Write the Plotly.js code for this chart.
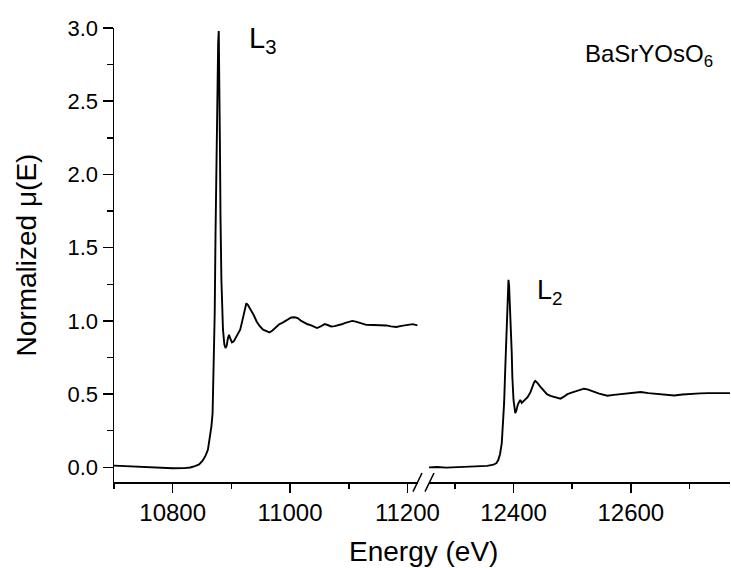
<!DOCTYPE html>
<html>
<head>
<meta charset="utf-8">
<script src="https://cdn.plot.ly/plotly-3.0.1.min.js"></script>
<style>
html,body{margin:0;padding:0;background:#fff;}
#chart{width:731px;height:568px;}
</style>
</head>
<body>
<div id="chart"></div>
<script>
// L3 edge (left segment)
const energyL3 = [10700,10720,10740,10760,10780,10800,10820,10830,10838,10845,10851,10856,10860,10864,10866,10868,10870,10871.6,10873,10874.5,10876,10877.5,10878.5,10879.5,10880.5,10881.5,10883,10885.7,10888,10890,10892,10894,10896,10898,10901,10904,10907,10911,10915,10918,10920,10923,10925.5,10928,10931,10934,10938,10943,10948,10954,10960,10965,10970,10974,10978,10982,10986,10991,10996,11002,11008,11013,11019,11025,11030,11036,11041,11046,11052,11059,11064,11070,11076,11082,11088,11093,11100,11106,11112,11119,11125,11130,11142,11153,11164,11172,11181,11190,11198,11209,11217];
const muL3 = [0.012,0.008,0.004,0.0,-0.004,-0.006,-0.005,-0.001,0.008,0.02,0.045,0.08,0.12,0.21,0.28,0.37,0.71,1.05,1.6,2.1,2.66,2.9,2.98,2.7,2.2,1.7,1.28,0.94,0.84,0.815,0.83,0.88,0.905,0.88,0.853,0.86,0.88,0.905,0.94,0.99,1.03,1.09,1.12,1.11,1.09,1.076,1.04,0.996,0.965,0.94,0.928,0.921,0.935,0.95,0.965,0.978,0.985,0.996,1.01,1.023,1.025,1.019,1.0,0.985,0.977,0.969,0.96,0.951,0.962,0.978,0.972,0.962,0.964,0.969,0.977,0.985,0.995,1.0,0.995,0.985,0.976,0.973,0.972,0.973,0.969,0.963,0.958,0.966,0.973,0.978,0.969];

// L2 edge (right segment)
const energyL2 = [12256,12270,12285,12300,12320,12343,12355,12366,12371,12374,12377,12380,12382,12384,12386,12387.5,12389,12390.5,12391.4,12392.5,12394,12395.5,12397,12398,12400,12403,12405,12407.5,12409,12411.5,12414,12417,12420,12424,12428.6,12432,12435,12437,12440,12446,12451,12457,12463,12469,12475,12480,12486,12492,12499,12506,12513,12520,12526,12532,12539,12546,12553,12560,12571,12583,12600,12617,12630,12646,12660,12674,12688,12703,12718,12732,12750,12769];
const muL2 = [0.0,0.002,-0.002,0.0,0.002,0.004,0.01,0.018,0.03,0.05,0.09,0.166,0.29,0.44,0.68,0.89,1.1,1.24,1.28,1.24,1.12,1.0,0.78,0.62,0.46,0.37,0.39,0.43,0.44,0.46,0.44,0.45,0.46,0.48,0.51,0.55,0.58,0.59,0.58,0.55,0.525,0.50,0.488,0.48,0.473,0.469,0.483,0.50,0.51,0.518,0.528,0.537,0.532,0.525,0.513,0.503,0.495,0.489,0.495,0.50,0.507,0.514,0.507,0.50,0.494,0.491,0.497,0.503,0.505,0.507,0.506,0.507];

const xRangeLeft = [10700, 11218];
const xRangeRight = [12256, 12769];
const yRange = [-0.1, 3.0];

const FONT = '"Liberation Sans", Arial, sans-serif';

const traces = [
  {x: energyL3, y: muL3, type: 'scatter', mode: 'lines', xaxis: 'x', yaxis: 'y',
   line: {color: '#000', width: 1.9}, showlegend: false, hoverinfo: 'x+y'},
  {x: energyL2, y: muL2, type: 'scatter', mode: 'lines', xaxis: 'x2', yaxis: 'y',
   line: {color: '#000', width: 1.9}, showlegend: false, hoverinfo: 'x+y'}
];

const xCommon = {
  showline: true, linecolor: '#000', linewidth: 1.5,
  ticks: 'outside', ticklen: 9, tickwidth: 1.5, tickcolor: '#000',
  showgrid: false, zeroline: false, tickformat: 'd',
  tickfont: {family: FONT, size: 24, color: '#000'},
  dtick: 200,
  minor: {dtick: 100, ticks: 'outside', ticklen: 5, tickwidth: 1.5, tickcolor: '#000', showgrid: false}
};

const layout = {
  width: 731, height: 568,
  margin: {l: 114, r: 1, t: 28, b: 86},
  paper_bgcolor: '#fff', plot_bgcolor: '#fff',
  font: {family: FONT, color: '#000'},
  showlegend: false,
  xaxis: Object.assign({}, xCommon, {domain: [0, 0.4935], range: xRangeLeft, tick0: 10800, anchor: 'y'}),
  xaxis2: Object.assign({}, xCommon, {domain: [0.5114, 1], range: xRangeRight, tick0: 12400, anchor: 'y'}),
  yaxis: {
    range: yRange, showline: true, linecolor: '#000', linewidth: 1.5,
    ticks: 'outside', ticklen: 10, tickwidth: 1.5, tickcolor: '#000',
    showgrid: false, zeroline: false, dtick: 0.5, tick0: 0, tickformat: '.1f',
    tickfont: {family: FONT, size: 22, color: '#000'},
    minor: {dtick: 0.25, ticks: 'outside', ticklen: 6, tickwidth: 1.5, tickcolor: '#000', showgrid: false},
    title: {text: 'Normalized \u03bc(E)', font: {family: FONT, size: 28, color: '#000'}, standoff: 22}
  },
  annotations: [
    {text: 'Energy (eV)', xref: 'paper', yref: 'paper', x: 0.503, y: -0.152,
     xanchor: 'center', yanchor: 'middle', showarrow: false,
     font: {family: FONT, size: 28, color: '#000'}},
    {text: 'L<sub>3</sub>', xref: 'x', yref: 'paper', x: 10926, y: 1.0176,
     xanchor: 'left', yanchor: 'top', showarrow: false,
     font: {family: FONT, size: 29, color: '#000'}},
    {text: 'L<sub>2</sub>', xref: 'x2', yref: 'y', x: 12437, y: 1.33,
     xanchor: 'left', yanchor: 'top', showarrow: false,
     font: {family: FONT, size: 27, color: '#000'}},
    {text: 'BaSrYOsO<sub>6</sub>', xref: 'x2', yref: 'y', x: 12519, y: 2.93,
     xanchor: 'left', yanchor: 'top', showarrow: false,
     font: {family: FONT, size: 24, color: '#000'}}
  ],
  shapes: [
    {type: 'line', xref: 'paper', yref: 'paper',
     x0: (413 - 114) / 616, y0: -(491.7 - 482) / 454, x1: (422 - 114) / 616, y1: (482 - 473) / 454,
     line: {color: '#000', width: 1.5}},
    {type: 'line', xref: 'paper', yref: 'paper',
     x0: (425 - 114) / 616, y0: -(491.7 - 482) / 454, x1: (434 - 114) / 616, y1: (482 - 473) / 454,
     line: {color: '#000', width: 1.5}}
  ]
};

Plotly.newPlot('chart', traces, layout, {displayModeBar: false, staticPlot: true});
</script>
</body>
</html>
